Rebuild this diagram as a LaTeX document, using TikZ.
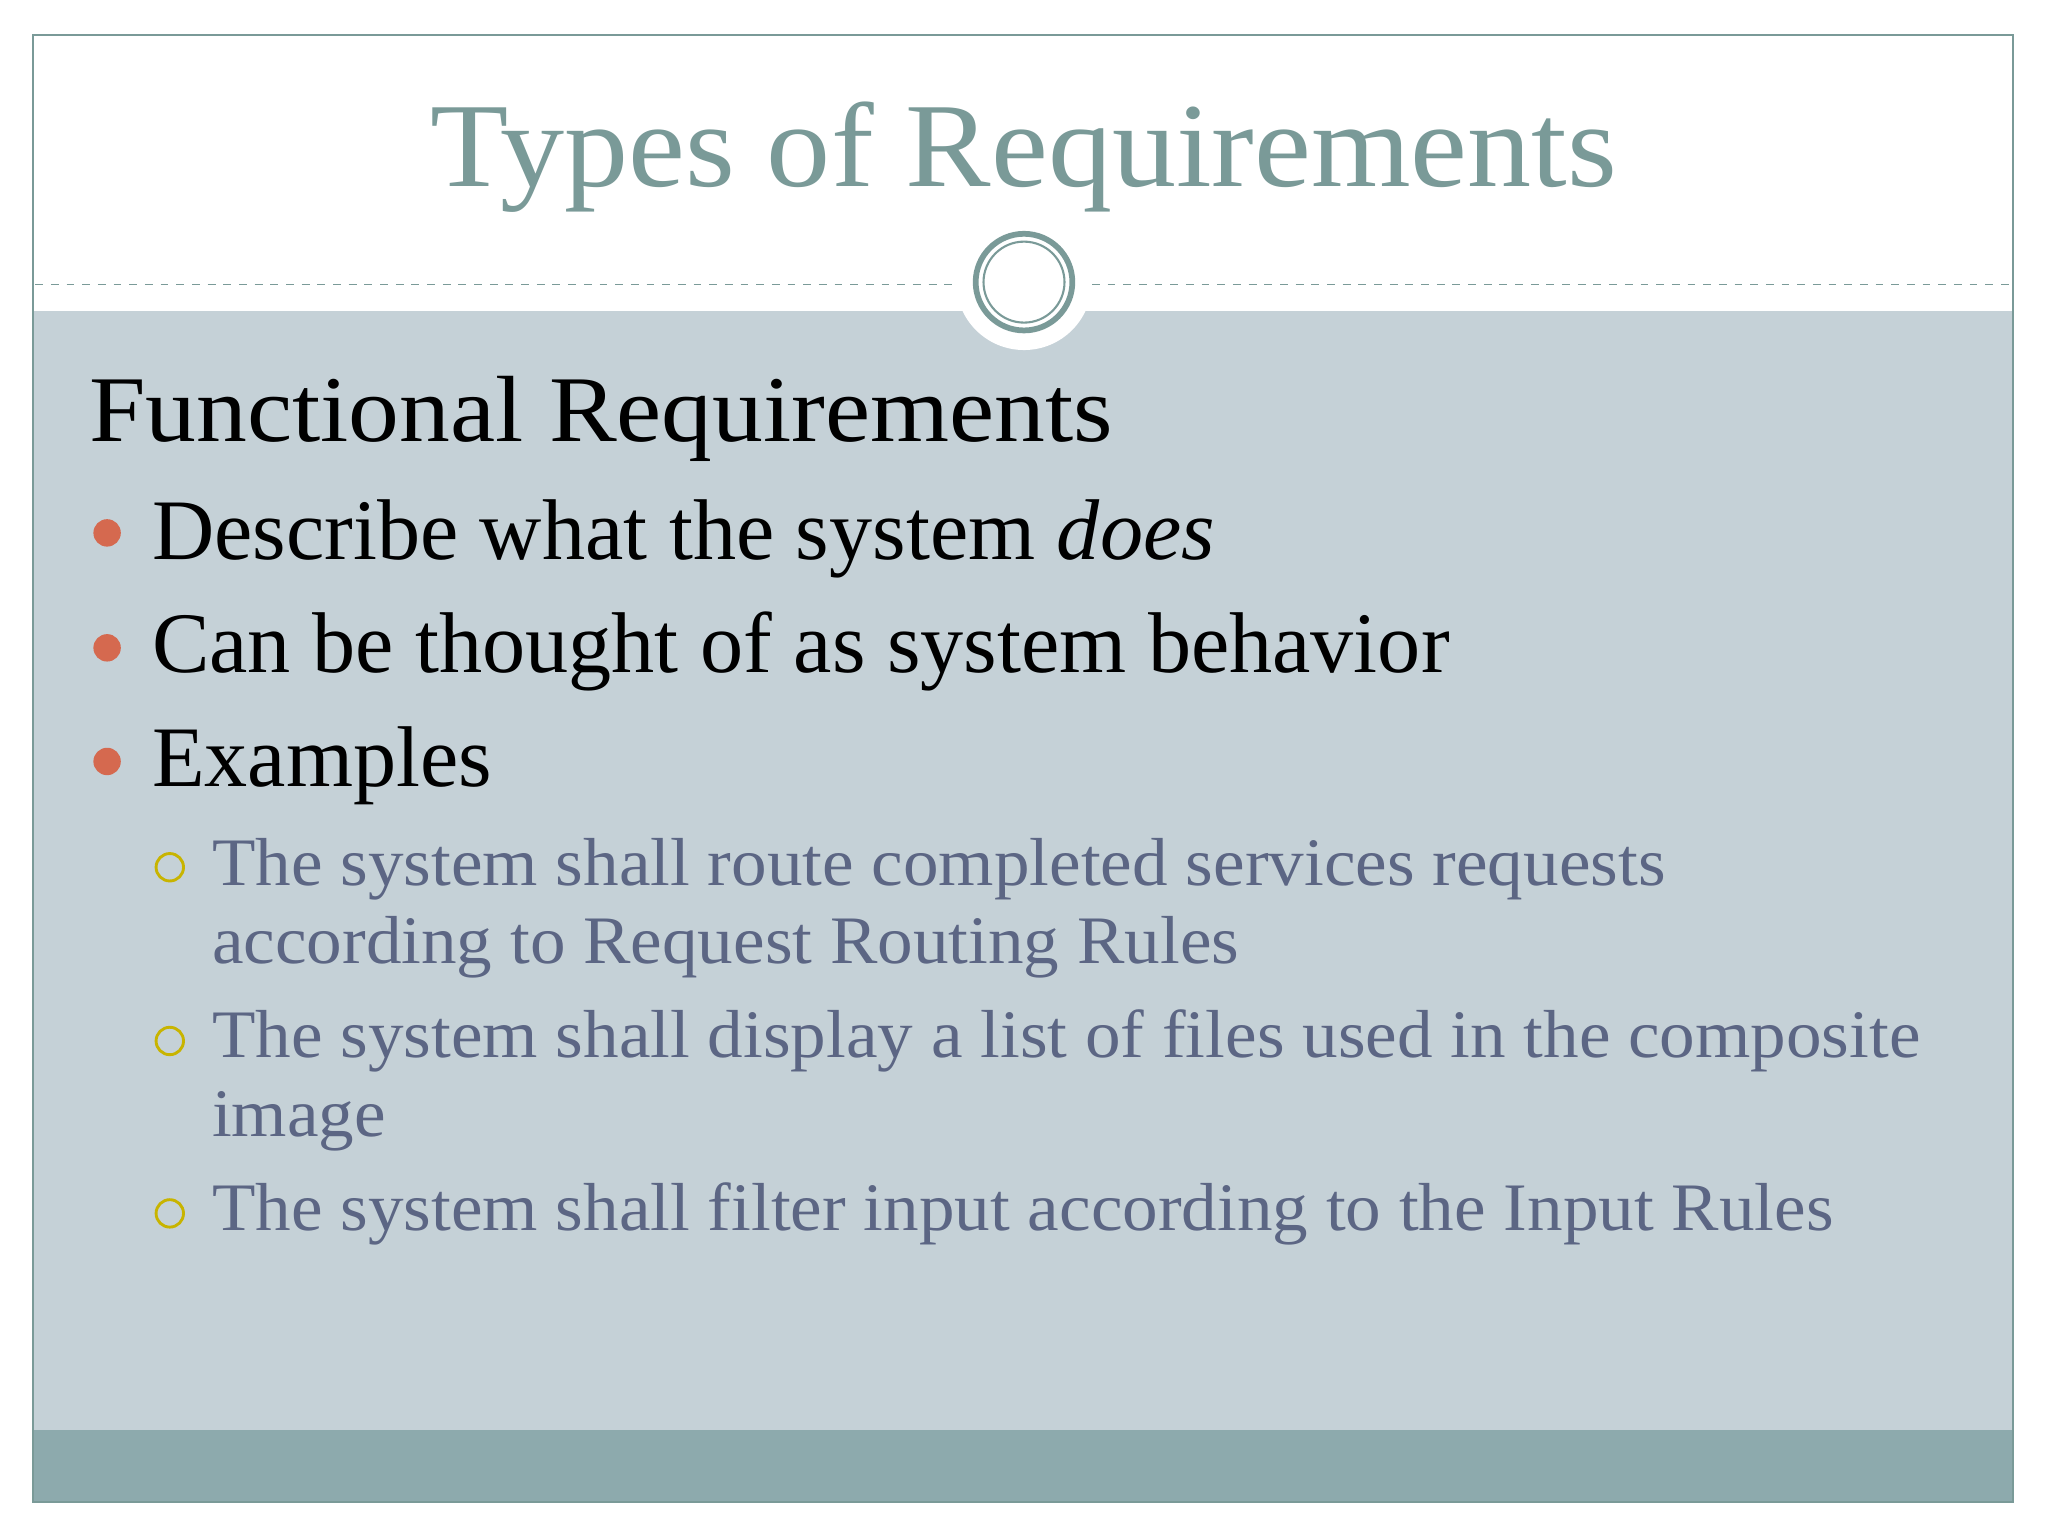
\documentclass[tikz,border=0pt]{standalone}
\usepackage{fontspec}
\setmainfont{Liberation Serif}
\newfontfamily\ftitle[FakeStretch=1.066]{Liberation Serif}
\newfontfamily\fhead[FakeStretch=1.08]{Liberation Serif}
\newfontfamily\fsub[FakeStretch=1.047]{Liberation Serif}
\definecolor{teal1}{HTML}{7A9A98}
\definecolor{bodyc}{HTML}{C5D1D7}
\definecolor{footc}{HTML}{8DAAAD}
\definecolor{subc}{HTML}{5C6684}
\definecolor{dotc}{HTML}{D5694F}
\definecolor{ringc}{HTML}{C8B400}
\tikzset{txt/.style={anchor=base west,inner sep=0pt},
 big/.style={txt,font=\fontsize{33}{33}\selectfont},
 subt/.style={txt,font=\fsub\fontsize{26}{26}\selectfont,text=subc},
 bdot/.style={circle,fill=dotc,inner sep=0pt,minimum size=10.5pt},
 sring/.style={circle,draw=ringc,line width=1.1pt,inner sep=0pt,minimum size=10.5pt}}
\begin{document}
\begin{tikzpicture}[x=0.5pt,y=-0.5pt]
\useasboundingbox (0,0) rectangle (1568,1176);
\fill[white] (0,0) rectangle (1568,1176);
\fill[bodyc] (26,238) rectangle (1541,1095);
\fill[footc] (26,1095) rectangle (1541,1150);
\draw[teal1,line width=0.8pt] (25,27) rectangle (1541,1150);
\draw[teal1,dashed,line width=0.5pt] (27,218) -- (730,218);
\draw[teal1,dashed,line width=0.5pt] (836,218) -- (1540,218);
\fill[white] (784,216) circle (52);
\draw[teal1,line width=2.2pt] (784,216) circle (37);
\draw[teal1,line width=0.8pt] (784,216) circle (31);
\node[font=\ftitle\fontsize{46}{46}\selectfont,text=teal1,inner sep=0pt,anchor=base] (title) at (784,143) {Types of Requirements};
\node[txt,font=\fhead\fontsize{36}{36}\selectfont] (fr) at (68,338) {Functional Requirements};
\node[bdot] (d1) at (82,408) {};
\node[big] (b1) at (116,428) {Describe what the system \textit{does}};
\node[bdot] (d2) at (82,496) {};
\node[big] (b2) at (116,515) {Can be thought of as system behavior};
\node[bdot] (d3) at (82,583) {};
\node[big] (b3) at (116,602) {Examples};
\node[sring] (r1) at (130,664) {};
\node[subt] (s1) at (162,678) {The system shall route completed services requests};
\node[subt] (s1b) at (162,738) {according to Request Routing Rules};
\node[sring] (r2) at (130,797) {};
\node[subt] (s2) at (162,810) {The system shall display a list of files used in the composite};
\node[subt] (s2b) at (162,870) {image};
\node[sring] (r3) at (130,929) {};
\node[subt] (s3) at (162,942) {The system shall filter input according to the Input Rules};
\end{tikzpicture}
\end{document}
